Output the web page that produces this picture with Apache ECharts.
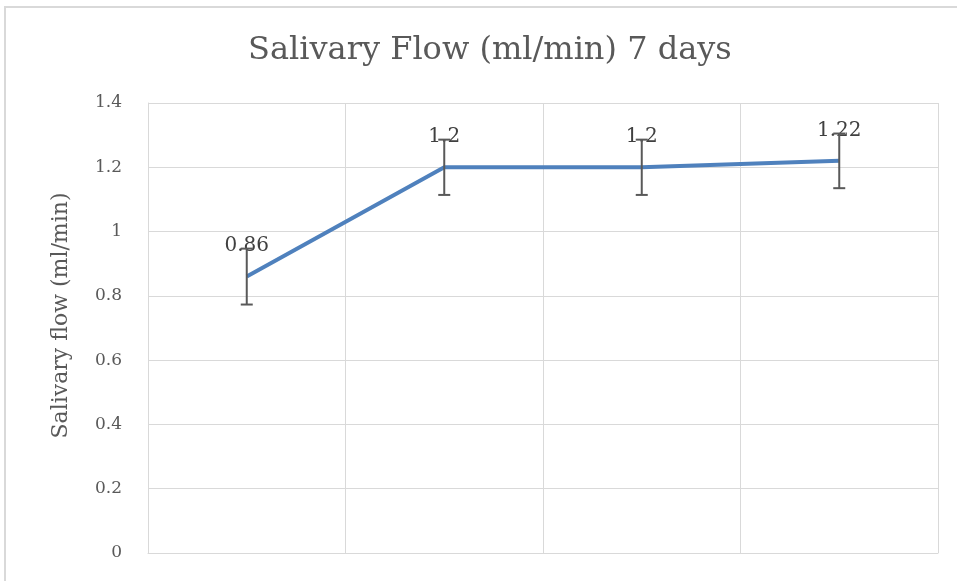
<!DOCTYPE html>
<html>
<head>
<meta charset="utf-8">
<script src="https://cdn.jsdelivr.net/npm/echarts@6/dist/echarts.min.js"></script>
<style>
  html, body { margin: 0; padding: 0; background: #fff; }
  #frame { position: absolute; left: 4px; top: 6px; width: 960px; height: 600px;
           border-left: 2px solid #d9d9d9; border-top: 2px solid #d9d9d9; }
  #main { position: absolute; left: 0; top: 0; width: 957px; height: 581px; }
</style>
</head>
<body>
<div id="frame"></div>
<div id="main"></div>
<script>
const categories = ['1', '2', '3', '4'];
const flowValues = [0.86, 1.2, 1.2, 1.22];
const flowErrors = [0.087, 0.086, 0.086, 0.085];
const yTicks = { min: 0, max: 1.4, interval: 0.2 };

const chart = echarts.init(document.getElementById('main'));

const errorData = flowValues.map((v, i) => [i, v - flowErrors[i], v + flowErrors[i]]);

const option = {
  animation: false,
  title: {
    text: 'Salivary Flow (ml/min) 7 days',
    left: 243,
    top: 30,
    textStyle: { fontFamily: 'DejaVu Serif', fontWeight: 'normal', fontSize: 32, color: '#595959' }
  },
  grid: { left: 148, right: 19, top: 103, bottom: 28 },
  xAxis: {
    type: 'category',
    data: categories,
    boundaryGap: true,
    axisLine: { show: true, lineStyle: { color: '#d9d9d9', width: 1 } },
    axisTick: { show: false },
    axisLabel: { show: false },
    splitLine: { show: true, lineStyle: { color: '#d9d9d9', width: 1 } }
  },
  yAxis: {
    type: 'value',
    min: yTicks.min,
    max: yTicks.max,
    interval: yTicks.interval,
    name: 'Salivary flow (ml/min)',
    nameLocation: 'middle',
    nameGap: 76,
    nameTextStyle: { fontFamily: 'DejaVu Serif', fontSize: 22, color: '#595959', padding: [0, 0, 0, 25] },
    axisLine: { show: true, lineStyle: { color: '#d9d9d9' } },
    axisTick: { show: false },
    axisLabel: { fontFamily: 'DejaVu Serif', fontSize: 17, color: '#595959', margin: 26 },
    splitLine: { lineStyle: { color: '#d9d9d9', width: 1 } }
  },
  series: [
    {
      type: 'line',
      data: flowValues,
      symbol: 'circle',
      symbolSize: 1,
      showSymbol: true,
      itemStyle: { color: '#4f81bd' },
      lineStyle: { color: '#4f81bd', width: 4 },
      label: {
        show: true,
        position: 'top',
        distance: 20,
        fontFamily: 'DejaVu Serif',
        fontSize: 20,
        color: '#404040',
        formatter: p => String(p.value)
      },
      z: 2
    },
    {
      type: 'custom',
      data: errorData,
      z: 3,
      renderItem: function (params, api) {
        const x = api.value(0);
        const lo = api.coord([x, api.value(1)]);
        const hi = api.coord([x, api.value(2)]);
        const hw = 6;
        const style = { stroke: '#595959', lineWidth: 2 };
        return {
          type: 'group',
          children: [
            { type: 'line', shape: { x1: hi[0], y1: hi[1], x2: lo[0], y2: lo[1] }, style },
            { type: 'line', shape: { x1: hi[0] - hw, y1: hi[1], x2: hi[0] + hw, y2: hi[1] }, style },
            { type: 'line', shape: { x1: lo[0] - hw, y1: lo[1], x2: lo[0] + hw, y2: lo[1] }, style }
          ]
        };
      }
    }
  ]
};

chart.setOption(option);
</script>
</body>
</html>
